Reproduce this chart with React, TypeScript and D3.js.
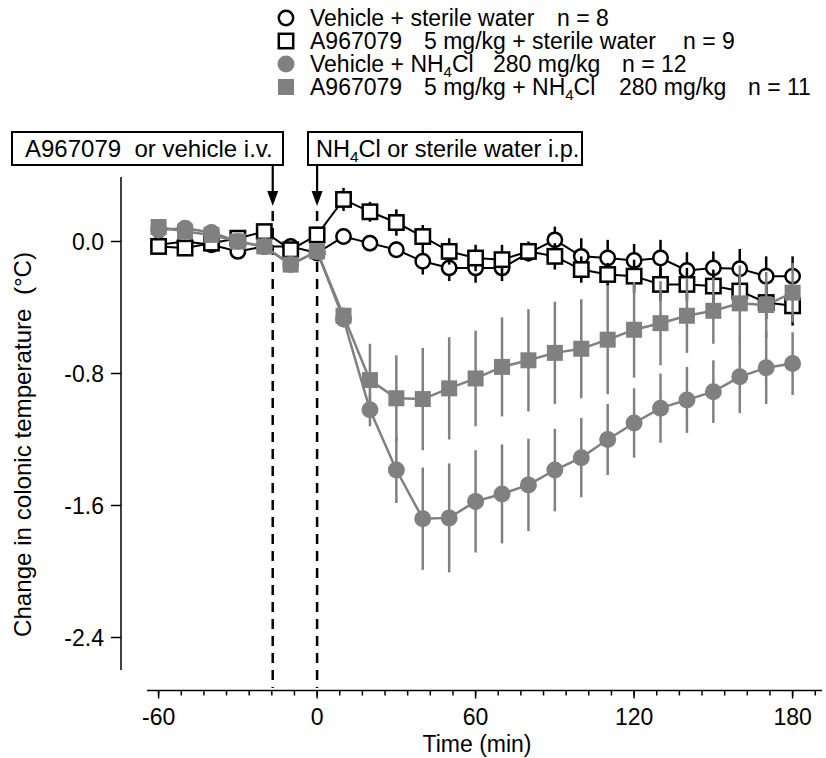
import React from "react";
import * as d3 from "d3";

const times = [-60, -50, -40, -30, -20, -10, 0, 10, 20, 30, 40, 50, 60, 70, 80, 90, 100, 110, 120, 130, 140, 150, 160, 170, 180];

const vehWater = [-0.02, 0.0, -0.02, -0.06, -0.03, -0.03, -0.07, 0.03, -0.01, -0.05, -0.12, -0.16, -0.16, -0.16, -0.07, 0.01, -0.09, -0.1, -0.115, -0.1, -0.175, -0.16, -0.165, -0.21, -0.21];
const vehWaterErr = [0.04, 0.04, 0.04, 0.04, 0.04, 0.04, 0.04, 0.05, 0.05, 0.05, 0.08, 0.08, 0.09, 0.08, 0.05, 0.08, 0.11, 0.11, 0.1, 0.11, 0.11, 0.1, 0.12, 0.12, 0.12];

const antWater = [-0.03, -0.04, -0.01, 0.02, 0.06, -0.05, 0.04, 0.255, 0.18, 0.115, 0.03, -0.06, -0.1, -0.11, -0.06, -0.09, -0.17, -0.2, -0.21, -0.26, -0.26, -0.27, -0.3, -0.37, -0.39];
const antWaterErr = [0.04, 0.04, 0.04, 0.04, 0.04, 0.04, 0.05, 0.07, 0.06, 0.08, 0.07, 0.08, 0.08, 0.09, 0.06, 0.08, 0.08, 0.07, 0.1, 0.1, 0.1, 0.1, 0.1, 0.1, 0.12];

const vehNH4 = [0.07, 0.08, 0.055, 0.0, -0.03, -0.14, -0.06, -0.47, -1.02, -1.385, -1.68, -1.675, -1.575, -1.53, -1.475, -1.385, -1.31, -1.2, -1.1, -1.01, -0.96, -0.91, -0.82, -0.765, -0.74];
const vehNH4Err = [0.04, 0.04, 0.04, 0.04, 0.04, 0.04, 0.04, 0.05, 0.1, 0.2, 0.31, 0.33, 0.31, 0.3, 0.28, 0.25, 0.24, 0.215, 0.21, 0.21, 0.2, 0.19, 0.22, 0.22, 0.19];

const antNH4 = [0.088, 0.06, 0.04, 0.0, -0.03, -0.14, -0.06, -0.45, -0.84, -0.95, -0.955, -0.89, -0.83, -0.76, -0.72, -0.675, -0.65, -0.595, -0.535, -0.495, -0.45, -0.42, -0.375, -0.385, -0.31];
const antNH4Err = [0.04, 0.04, 0.04, 0.04, 0.04, 0.04, 0.04, 0.05, 0.22, 0.26, 0.31, 0.31, 0.29, 0.3, 0.31, 0.31, 0.3, 0.33, 0.29, 0.255, 0.225, 0.2, 0.23, 0.2, 0.18];

const xMajorTicks = [-60, 0, 60, 120, 180];
const yTicks = [0, -0.8, -1.6, -2.4];
const injectionTimes = [-16.8, 0];

// legend texts, split into word groups; "_4" marks a subscript 4
const legendRows = [
  ["Vehicle + sterile water", "n = 8"],
  ["A967079", "5 mg/kg + sterile water", "n = 9"],
  ["Vehicle + NH_4Cl", "280 mg/kg", "n = 12"],
  ["A967079", "5 mg/kg + NH_4Cl", "280 mg/kg", "n = 11"],
];

const FONT = "'Liberation Sans', Arial, sans-serif";
const GRAY = "#808080";

function RichText({ s, subSize }: { s: string; subSize: number }) {
  const parts = s.split("_4");
  if (parts.length === 1) return <>{s}</>;
  return (
    <>
      <tspan>{parts[0]}</tspan>
      <tspan fontSize={subSize} dy={5}>
        4
      </tspan>
      <tspan dy={-5}>{parts[1]}</tspan>
    </>
  );
}

export default function App() {
  const W = 826, H = 758;
  const x = d3.scaleLinear().domain([-60, 180]).range([158.6, 792.6]);
  const y = d3.scaleLinear().domain([0, -2.4]).range([241.5, 637.5]);

  const minorTicks: number[] = [];
  for (let k = 0; k <= 29; k++) minorTicks.push(-60 + (k * 60) / 7);

  const lineGen = d3
    .line<[number, number]>()
    .x((d) => x(d[0]))
    .y((d) => y(d[1]));

  const series = [
    { vals: vehWater, errs: vehWaterErr, shape: "circle", filled: false },
    { vals: antWater, errs: antWaterErr, shape: "square", filled: false },
    { vals: vehNH4, errs: vehNH4Err, shape: "circle", filled: true },
    { vals: antNH4, errs: antNH4Err, shape: "square", filled: true },
  ];

  // layout: x positions of word groups in each legend row
  const legendX = [
    [310, 557],
    [310, 424, 683],
    [310, 493, 622],
    [310, 424, 619, 748],
  ];

  const marker = (shape: string, filled: boolean, cx: number, cy: number, key: string) => {
    if (shape === "circle") {
      return filled ? (
        <circle key={key} cx={cx} cy={cy} r={8.5} fill={GRAY} />
      ) : (
        <circle key={key} cx={cx} cy={cy} r={7.2} fill="#fff" stroke="#000" strokeWidth={2.5} />
      );
    }
    return filled ? (
      <rect key={key} x={cx - 8} y={cy - 8} width={16} height={16} fill={GRAY} />
    ) : (
      <rect key={key} x={cx - 7.2} y={cy - 7.2} width={14.4} height={14.4} fill="#fff" stroke="#000" strokeWidth={2.5} />
    );
  };

  return (
    <svg width={W} height={H} style={{ display: "block", position: "absolute", left: 0, top: 0 }} fontFamily={FONT}>
      <rect width={W} height={H} fill="#fff" />
      {/* Legend */}
      {legendRows.map((row, i) => {
        const cy = 18 + i * 23;
        const s = series[i];
        return (
          <g key={"lg" + i}>
            {marker(s.shape, s.filled, 286, cy, "lm" + i)}
            {row.map((seg, j) => (
              <text key={j} x={legendX[i][j]} y={cy + 7.5} fontSize={23} fill="#000">
                <RichText s={seg} subSize={15} />
              </text>
            ))}
          </g>
        );
      })}

      {/* Annotation boxes */}
      <rect x={12} y={132} width={271} height={33} fill="#fff" stroke="#000" strokeWidth={2} />
      <text x={25} y={157} fontSize={24} style={{ whiteSpace: "pre" }}>
        A967079  or vehicle i.v.
      </text>
      <rect x={308} y={132} width={274} height={33} fill="#fff" stroke="#000" strokeWidth={2} />
      <text x={316} y={157} fontSize={23.5} style={{ whiteSpace: "pre" }}>
        <RichText s="NH_4Cl or sterile water i.p." subSize={15.5} />
      </text>
      {injectionTimes.map((t, i) => (
        <g key={"arr" + i}>
          <line x1={x(t)} x2={x(t)} y1={165} y2={194} stroke="#000" strokeWidth={2.2} />
          <path d={`M${x(t) - 5.5},${191} L${x(t) + 5.5},${191} L${x(t)},${206} Z`} fill="#000" />
          <line x1={x(t)} x2={x(t)} y1={211} y2={688} stroke="#000" strokeWidth={2.5} strokeDasharray="10,7" />
        </g>
      ))}

      {/* Axes */}
      <line x1={121} x2={121} y1={177} y2={670} stroke="#000" strokeWidth={1.5} />
      {yTicks.map((v) => (
        <g key={"yt" + v}>
          <line x1={111} x2={121} y1={y(v)} y2={y(v)} stroke="#000" strokeWidth={1.5} />
          <text x={104} y={y(v) + 8} fontSize={23} textAnchor="end">
            {v.toFixed(1)}
          </text>
        </g>
      ))}
      <line x1={147} x2={822} y1={690.5} y2={690.5} stroke="#000" strokeWidth={1.5} />
      {minorTicks.map((t, i) => (
        <line key={"mt" + i} x1={x(t)} x2={x(t)} y1={690.5} y2={695.5} stroke="#000" strokeWidth={1.5} />
      ))}
      {xMajorTicks.map((t) => (
        <g key={"xt" + t}>
          <line x1={x(t)} x2={x(t)} y1={690.5} y2={698.5} stroke="#000" strokeWidth={1.5} />
          <text x={x(t)} y={725} fontSize={23} textAnchor="middle">
            {t}
          </text>
        </g>
      ))}
      <text x={477} y={752} fontSize={23} textAnchor="middle">
        Time (min)
      </text>
      <text
        transform={`translate(31,${444.5}) rotate(-90)`}
        fontSize={24}
        textAnchor="middle"
        textLength={385}
        lengthAdjust="spacingAndGlyphs"
        style={{ whiteSpace: "pre" }}
      >
        Change in colonic temperature  (°C)
      </text>

      {/* Data */}
      {series.map((s, si) => {
        const pts: [number, number][] = times.map((t, i) => [t, s.vals[i]]);
        const col = s.filled ? GRAY : "#000";
        return (
          <g key={"s" + si}>
            {times.map((t, i) => (
              <line
                key={"e" + i}
                x1={x(t)}
                x2={x(t)}
                y1={y(s.vals[i] + s.errs[i])}
                y2={y(s.vals[i] - s.errs[i])}
                stroke={col}
                strokeWidth={2.5}
              />
            ))}
            <path d={lineGen(pts) || ""} fill="none" stroke={col} strokeWidth={s.filled ? 2.5 : 2} />
            {times.map((t, i) => marker(s.shape, s.filled, x(t), y(s.vals[i]), "m" + i))}
          </g>
        );
      })}
    </svg>
  );
}
